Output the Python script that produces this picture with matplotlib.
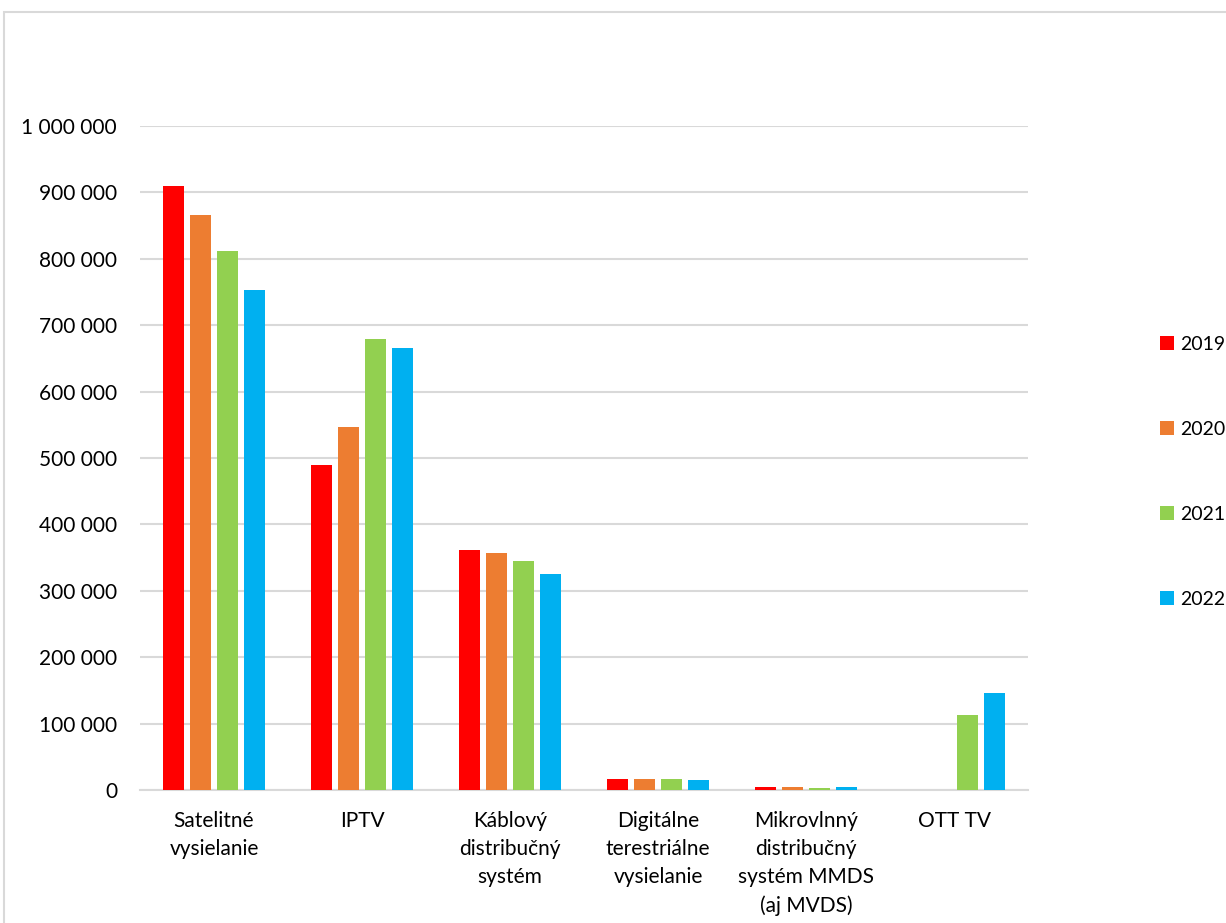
import numpy as np
import matplotlib
matplotlib.use('Agg')
import matplotlib.pyplot as plt
from matplotlib.patches import Rectangle
from matplotlib.ticker import FuncFormatter

plt.rcParams['font.family'] = ['Lato', 'DejaVu Sans']

# ── Data ─────────────────────────────────────────────────────────────────────
categories = [
    'Satelitné\nvysielanie',
    'IPTV',
    'Káblový\ndistribučný\nsystém',
    'Digitálne\nterestriálne\nvysielanie',
    'Mikrovlnný\ndistribučný\nsystém MMDS\n(aj MVDS)',
    'OTT TV',
]
years = ['2019', '2020', '2021', '2022']
v2019 = [909000, 489000, 361500, 16000, 4500, 0]
v2020 = [866000, 547000, 356500, 16000, 4000, 0]
v2021 = [812500, 679000, 345000, 16500, 3500, 113000]
v2022 = [753000, 665500, 325000, 15000, 4000, 146500]
colors = ['#FF0000', '#ED7D31', '#92D050', '#00B0F0']

series = [v2019, v2020, v2021, v2022]

fig = plt.figure(figsize=(12.26, 9.23), dpi=100)
ax = fig.add_axes([140 / 1226, 1 - 790 / 923, 888 / 1226, 664 / 923])

x = np.arange(len(categories))
step = 0.182
width = 0.142
for i, (vals, col, yr) in enumerate(zip(series, colors, years)):
    ax.bar(x + (i - 1.5) * step, vals, width=width, color=col, label=yr, zorder=3)

ax.set_xlim(-0.5, len(categories) - 0.5)
ax.set_ylim(0, 1000000)
ax.set_yticks(np.arange(0, 1000001, 100000))
ax.yaxis.set_major_formatter(FuncFormatter(lambda v, p: f'{int(v):,}'.replace(',', ' ')))
ax.grid(axis='y', color='#d9d9d9', linewidth=1.5, zorder=0)
ax.set_axisbelow(True)
for s in ['top', 'right', 'left']:
    ax.spines[s].set_visible(False)
ax.spines['bottom'].set_color('#d9d9d9')
ax.spines['bottom'].set_linewidth(1.5)
ax.tick_params(axis='y', length=0, pad=16.5, labelsize=15, colors='#000000')
ax.tick_params(axis='x', length=0, pad=15, labelsize=15)
ax.set_xticks(x)
ax.set_xticklabels(categories, linespacing=1.5, va='top')

leg = fig.legend(loc='center left', bbox_to_anchor=(1142 / 1226, 1 - 472 / 923),
                 frameon=False, fontsize=14, handlelength=0.75, handleheight=0.75,
                 handletextpad=0.3, labelspacing=3.5)

# chart border
fig.patches.append(Rectangle((4 / 1226, -0.05), 1.1, 1 - 12 / 923 + 0.05,
                             transform=fig.transFigure, fill=False,
                             edgecolor='#d9d9d9', linewidth=1.5))

plt.savefig('out.png', dpi=100)
